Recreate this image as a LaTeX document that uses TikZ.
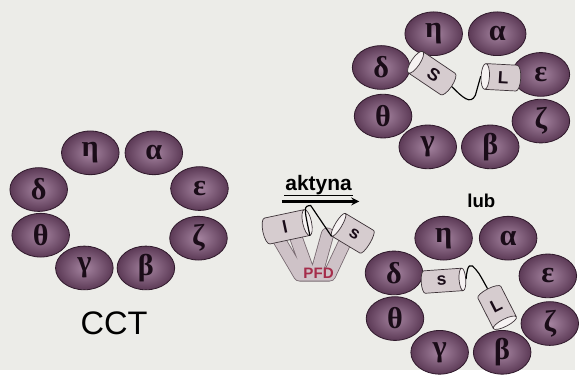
\documentclass[tikz,border=0pt]{standalone}
\usepackage{fontspec}
\setmainfont{Liberation Serif}
\setsansfont{Liberation Sans}
\usetikzlibrary{shapes.geometric}

\definecolor{paper}{RGB}{236,236,232}
\definecolor{sublight}{RGB}{165,132,160}
\definecolor{subdark}{RGB}{92,58,86}
\definecolor{subedge}{RGB}{48,26,44}
\definecolor{subtext}{RGB}{26,12,24}
\definecolor{tubefill}{RGB}{214,204,207}
\definecolor{tubeend}{RGB}{246,242,242}
\definecolor{tubeedge}{RGB}{60,50,55}
\definecolor{armfill}{RGB}{206,194,199}
\definecolor{armedge}{RGB}{118,104,111}
\definecolor{pfdred}{RGB}{165,45,75}

\tikzset{
  sub/.style={ellipse, draw=subedge, line width=0.7pt, inner color=sublight,
    outer color=subdark, minimum width=1.74cm, minimum height=1.32cm,
    inner sep=0pt, text=subtext, font=\bfseries\fontsize{26}{26}\selectfont},
  tube/.style={cylinder, draw=tubeedge, line width=0.6pt, aspect=0.7,
    cylinder uses custom fill, cylinder body fill=tubefill,
    cylinder end fill=tubeend, inner sep=0pt, text=subtext,
    font=\sffamily\bfseries\fontsize{15}{15}\selectfont},
  wire/.style={draw=black, line width=1pt},
  arm/.style={draw=armedge, double=armfill, double distance=10pt,
    line width=0.7pt, line cap=round, line join=round}
}

\begin{document}
\begin{tikzpicture}[>=stealth,x=0.03cm,y=-0.03cm]
\fill[paper] (0,0) rectangle (579,373);

% CCT ring
\node[sub] (l-eta) at (91,154) {η};
\node[sub] (l-alpha) at (155,154) {α};
\node[sub] (l-delta) at (39,191) {δ};
\node[sub] (l-eps) at (201,190) {ε};
\node[sub] (l-theta) at (41,237) {θ};
\node[sub] (l-zeta) at (200,240) {ζ};
\node[sub] (l-gamma) at (85,270) {γ};
\node[sub] (l-beta) at (147,270) {β};
\node[font=\sffamily\fontsize{28}{28}\selectfont] (cct) at (115,326) {CCT};

% prefoldin with actin
\draw[arm] (279,238) -- (302,277) -- (332,277) -- (348,243)
           (297,236) -- (310,272)  (330,236) -- (320,272);
\node[tube, rotate=12, minimum height=1.5cm, minimum width=0.8cm] (p-l) at (287,229) {l};
\node[tube, shape border rotate=180, rotate=-31, minimum height=1.2cm, minimum width=0.8cm] (p-s) at (357,236) {s};
\draw[wire] (p-l.after top) .. controls (306,208) .. (313,207) -- (p-s.before top);
\node[font=\sffamily\bfseries\fontsize{13}{13}\selectfont, text=pfdred] (pfd) at (321,275) {PFD};

\node[font=\sffamily\bfseries\fontsize{18}{18}\selectfont, inner sep=1pt] (akt) at (321,186) {aktyna};
\draw[line width=1.2pt] (akt.south west) -- (akt.south east);
\coordinate (a-from) at (284,203);
\coordinate (a-to) at (362,203);
\draw[->, line width=2pt] (a-from) -- (a-to);

% upper ring
\node[sub] (t-eta) at (437,34) {η};
\node[sub] (t-alpha) at (501,34) {α};
\node[sub] (t-delta) at (384,68) {δ};
\node[sub] (t-eps) at (545,75) {ε};
\node[sub] (t-theta) at (386,117) {θ};
\node[sub] (t-zeta) at (545,122) {ζ};
\node[sub] (t-gamma) at (431,148) {γ};
\node[sub] (t-beta) at (494,148) {β};
\node[tube, shape border rotate=180, rotate=-34, minimum height=1.44cm, minimum width=0.78cm] (t-s) at (437,75) {S};
\node[tube, shape border rotate=180, rotate=-3, minimum height=1.2cm, minimum width=0.78cm] (t-l) at (507,78) {L};
\draw[wire] (t-s.bottom) .. controls (466,98) and (474,106) .. (479,96) .. controls (482,86) .. (t-l.top);

\node[font=\sffamily\bfseries\fontsize{16}{16}\selectfont] (lub) at (485,202) {lub};

% lower ring
\node[sub] (b-eta) at (447,240) {η};
\node[sub] (b-alpha) at (512,240) {α};
\node[sub] (b-delta) at (397,275) {δ};
\node[sub] (b-eps) at (552,278) {ε};
\node[sub] (b-theta) at (398,321) {θ};
\node[sub] (b-zeta) at (554,326) {ζ};
\node[sub] (b-gamma) at (443,355) {γ};
\node[sub] (b-beta) at (506,355) {β};
\node[tube, rotate=4, minimum height=1.35cm, minimum width=0.68cm] (b-s) at (445,283) {s};
\node[tube, shape border rotate=270, rotate=27, minimum height=1.26cm, minimum width=0.78cm] (b-l) at (500,308) {L};
\draw[wire] (b-s.top) .. controls (470,276) and (471,265) .. (476,268) .. controls (482,274) .. (b-l.bottom);
\end{tikzpicture}
\end{document}
